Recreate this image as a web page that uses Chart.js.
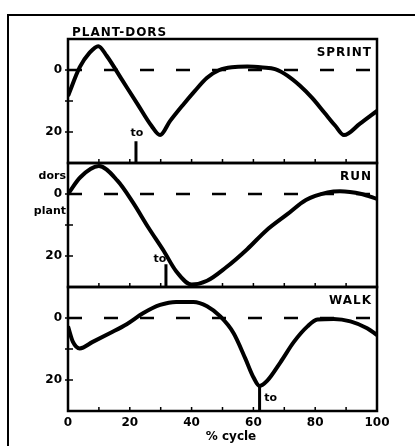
<!DOCTYPE html>
<html>
<head>
<meta charset="utf-8">
<script src="https://cdn.jsdelivr.net/npm/chart.js@4.4.0/dist/chart.umd.min.js"></script>
<style>
  body { margin: 0; background: #fff; }
  #wrap { position: relative; width: 415px; height: 446px; overflow: hidden; }
  #frame { position: absolute; left: 7px; top: 14px; width: 420px; height: 440px; border-top: 2px solid #000; border-left: 2px solid #000; }
  canvas { position: absolute; left: 0; top: 0; }
</style>
</head>
<body>
<div id="wrap">
  <div id="frame"></div>
  <canvas id="gait" width="415" height="446"></canvas>
</div>
<script>
// ankle angle over the stride, positive = plantar flexion (drawn downward)
var sprintPct   = [0, 3.8, 7, 9.8, 12.5, 17.5, 22.5, 27, 29.8, 33, 37, 41, 45, 49, 53, 58, 63, 67, 71, 75, 79, 83, 86.5, 89.3, 94.5, 100];
var sprintAngle = [8.4, -0.9, -5.6, -7.7, -4.6, 3.2, 11, 18, 21, 16.5, 11.5, 6.8, 2.5, 0, -0.9, -1.1, -0.8, -0.3, 1.8, 5, 9, 13.8, 18, 21, 17.3, 13.2];

var runPct   = [0, 4, 10, 16, 21, 26, 31, 35, 40, 45, 51, 58, 64, 71, 77, 84, 88, 95, 100];
var runAngle = [0, -5.4, -9, -4.3, 2.7, 10.8, 18.4, 24.9, 29.2, 28, 23.8, 17.8, 11.9, 6.5, 1.9, -0.5, -0.9, 0, 1.6];

var walkPct   = [0, 1.6, 3.8, 8, 13.5, 19, 24.4, 29.8, 35, 40.6, 45, 49.3, 53.6, 57.4, 60, 62, 64.5, 68.8, 73.1, 77.5, 80.7, 86, 91.4, 96.8, 100];
var walkAngle = [2.7, 7.7, 9.8, 7.7, 4.9, 2, -1.6, -4.2, -5.2, -5.2, -3.8, -0.5, 4.9, 13.1, 19.1, 21.9, 20.2, 14.2, 7.7, 2.7, 0.5, 0.3, 1.1, 3.3, 5.5];

// toe-off marks (sprint, run, walk)
var toeOffPct   = [22, 31.7, 62];
var toeOffAngle = [23, 22.7, 21.9];

var panelNames  = ['SPRINT', 'RUN', 'WALK'];
var yTickLabels = [0, 20];

var axisIds = ['ySprint', 'yRun', 'yWalk'];
var curves = [[sprintPct, sprintAngle], [runPct, runAngle], [walkPct, walkAngle]];
var toLabelOffset = [[1, -8], [-6, -5], [11, 12]];
var boldFont = '"DejaVu Sans", sans-serif';

var datasets = [];
curves.forEach(function(c, i) {
	datasets.push({
		yAxisID: axisIds[i],
		data: c[0].map(function(p, k) { return {x: p, y: c[1][k]}; }),
		borderColor: '#000',
		borderWidth: 4,
		pointRadius: 0,
		cubicInterpolationMode: 'monotone'
	});
	// zero line
	datasets.push({
		yAxisID: axisIds[i],
		data: [{x: 0, y: 0}, {x: 100, y: 0}],
		borderColor: '#000',
		borderWidth: 2.5,
		borderDash: [14, 22],
		pointRadius: 0
	});
	// toe-off bar
	datasets.push({
		yAxisID: axisIds[i],
		data: [{x: toeOffPct[i], y: toeOffAngle[i]}, {x: toeOffPct[i], y: 30}],
		borderColor: '#000',
		borderWidth: 3,
		pointRadius: 0
	});
});

function yAxis() {
	return {
		type: 'linear',
		position: 'left',
		stack: 'panels',
		stackWeight: 1,
		reverse: true,
		min: -10,
		max: 30,
		grid: {display: false, drawTicks: false},
		border: {display: false},
		ticks: {
			stepSize: 10,
			autoSkip: false,
			padding: 6,
			color: '#000',
			font: {family: boldFont, weight: 'bold', size: 12},
			callback: function(v) { return yTickLabels.indexOf(Number(v)) >= 0 ? String(v) : ''; }
		},
		afterFit: function(s) { s.width = 68; }
	};
}

var panelDecor = {
	id: 'panelDecor',
	afterDatasetsDraw: function(chart) {
		var ctx = chart.ctx, area = chart.chartArea, xs = chart.scales.x;
		ctx.save();
		ctx.strokeStyle = '#000';
		ctx.fillStyle = '#000';
		axisIds.forEach(function(id, i) {
			var s = chart.scales[id];
			ctx.lineWidth = 2.5;
			ctx.strokeRect(area.left, s.top, area.right - area.left, s.bottom - s.top);

			// small ticks
			ctx.lineWidth = 1.5;
			ctx.beginPath();
			for (var p = 10; p < 100; p += 10) {
				var px = xs.getPixelForValue(p);
				ctx.moveTo(px, s.bottom);
				ctx.lineTo(px, s.bottom - 4);
			}
			[0, 10, 20].forEach(function(v) {
				var py = s.getPixelForValue(v);
				ctx.moveTo(area.left - 3, py);
				ctx.lineTo(area.left + 5, py);
			});
			ctx.stroke();

			ctx.font = 'bold 12px ' + boldFont;
			ctx.letterSpacing = '1px';
			ctx.textAlign = 'right';
			ctx.textBaseline = 'middle';
			ctx.fillText(panelNames[i], area.right - 5, s.top + 14);

			ctx.letterSpacing = '0px';
			ctx.font = 'bold 11px ' + boldFont;
			ctx.textAlign = 'center';
			var tx = xs.getPixelForValue(toeOffPct[i]);
			var ty = s.getPixelForValue(toeOffAngle[i]);
			ctx.fillText('to', tx + toLabelOffset[i][0], ty + toLabelOffset[i][1]);
		});

		var run = chart.scales.yRun;
		var zero = run.getPixelForValue(0);
		ctx.font = 'bold 11px ' + boldFont;
		ctx.textAlign = 'right';
		ctx.fillText('dors', 66, zero - 18);
		ctx.fillText('plant', 66, zero + 17);

		ctx.textAlign = 'left';
		ctx.textBaseline = 'alphabetic';
		ctx.letterSpacing = '1px';
		ctx.font = 'bold 12px ' + boldFont;
		ctx.fillText('PLANT-DORS', 72, 36);

		ctx.letterSpacing = '0px';
		ctx.textAlign = 'center';
		ctx.textBaseline = 'middle';
		ctx.fillText('% cycle', 231, 437);
		ctx.restore();
	}
};

var chart = new Chart(document.getElementById('gait').getContext('2d'), {
	type: 'line',
	data: {datasets: datasets},
	options: {
		responsive: false,
		animation: false,
		layout: {padding: {top: 39, right: 38, left: 0, bottom: 0}},
		plugins: {legend: {display: false}, tooltip: {enabled: false}},
		scales: {
			x: {
				type: 'linear',
				min: 0,
				max: 100,
				grid: {display: false, drawTicks: false},
				border: {display: false},
				ticks: {
					stepSize: 20,
					padding: 5,
					maxRotation: 0,
					color: '#000',
					font: {family: boldFont, weight: 'bold', size: 12}
				},
				afterFit: function(s) { s.height = 35; }
			},
			yWalk: yAxis(),
			yRun: yAxis(),
			ySprint: yAxis()
		}
	},
	plugins: [panelDecor]
});
</script>
</body>
</html>
